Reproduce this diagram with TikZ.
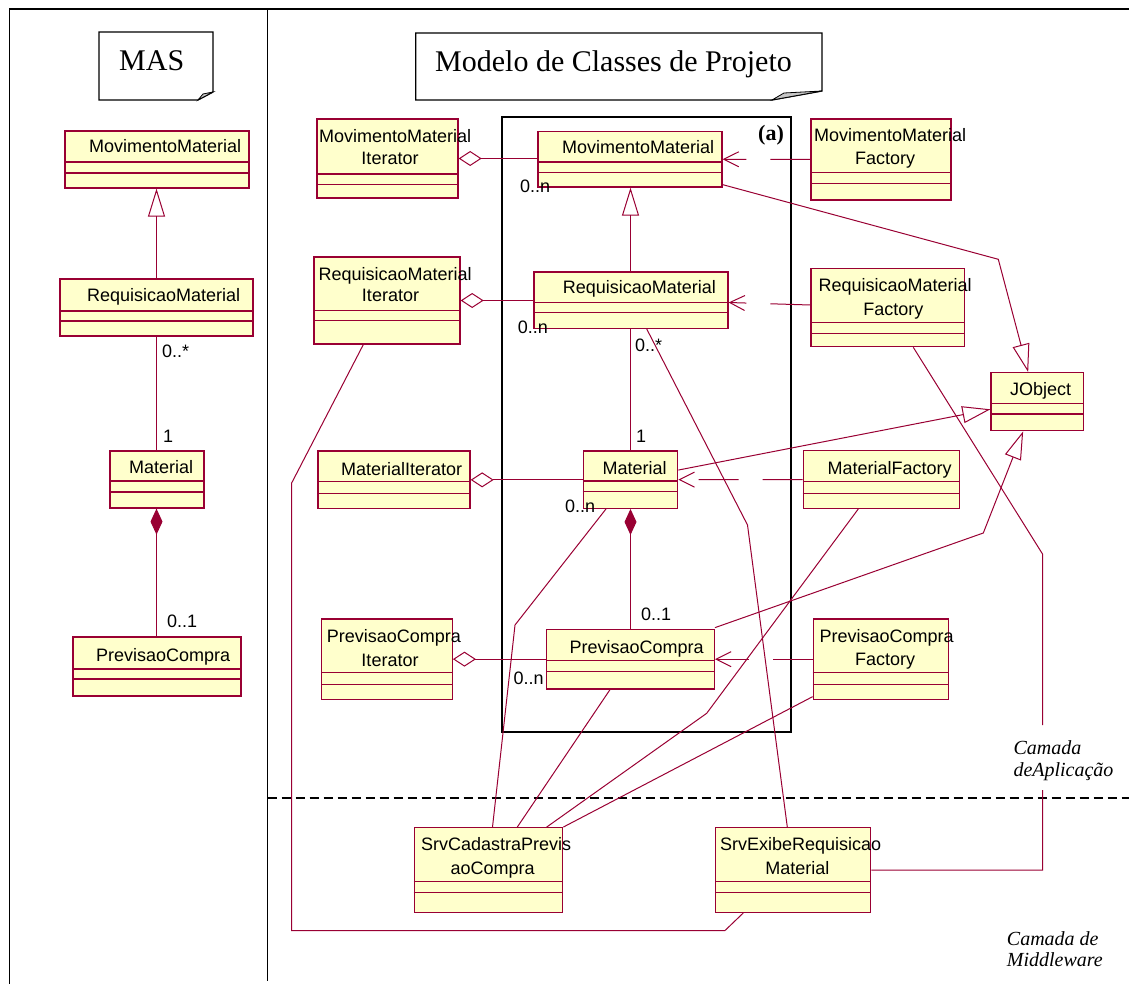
\documentclass[tikz,border=0pt]{standalone}
\usepackage{fontspec}
\setmainfont{Liberation Serif}
\newfontfamily\umlfont{Liberation Sans}
\usetikzlibrary{arrows.meta,fit,calc}
\definecolor{rosered}{RGB}{153,0,51}
\definecolor{roseyellow}{RGB}{255,255,204}

\tikzset{
  cls/.style={draw=rosered, fill=roseyellow, line width=1.3pt, inner sep=0pt},
  comp/.style={draw=rosered, line width=1.1pt},
  cname/.style={font=\umlfont\fontsize{18}{20}\selectfont, inner sep=0pt, anchor=base west},
  cnamec/.style={font=\umlfont\fontsize{18}{20}\selectfont, inner sep=0pt, anchor=base},
  mult/.style={font=\umlfont\fontsize{18}{20}\selectfont, inner sep=0pt, anchor=base west},
  link/.style={draw=rosered, line width=1pt},
  gen/.style={link, -{Triangle[open, length=28pt, width=17pt]}},
  agg/.style={link, {Diamond[open, length=23pt, width=15pt]}-},
  compo/.style={link, -{Diamond[length=26pt, width=12pt]}},
  dep/.style={link, dash pattern=on 40pt off 24pt, -{Straight Barb[length=15pt, width=15pt]}},
  frame/.style={draw=black, line width=1.8pt},
  pkg/.style={draw=black, line width=2pt, inner sep=0pt},
  note/.style={draw=black, line width=1.3pt, fill=white},
  fold/.style={fill=gray!45, draw=black, line width=0.8pt},
  title/.style={font=\fontsize{30}{32}\selectfont, inner sep=0pt, anchor=base west},
  layer/.style={font=\itshape\fontsize{20}{22}\selectfont, inner sep=0pt, anchor=base west},
}

% class box: name, x1, y1, x2, y2, first divider, second divider
\newcommand\umlclass[7]{%
  \node[cls, fit={(#2,#3) (#4,#5)}] (#1) {};
  \draw[comp] (#1.west |- 0,#6) -- (#1.east |- 0,#6);
  \draw[comp] (#1.west |- 0,#7) -- (#1.east |- 0,#7);
}

\begin{document}
\begin{tikzpicture}[x=1pt, y=-1pt]
\useasboundingbox (0,0) rectangle (1129,984);

% frame and layer separator
\draw[frame] (1129,9) -- (9.5,9) -- (9.5,984);
\draw[frame] (267.5,9) -- (267.5,981);
\draw[frame, line width=2pt, dash pattern=on 9pt off 5pt] (267.5,798) -- (1129,798);

% notes
\draw[note] (99,32) -- (213,32) -- (213,92) -- (198,100) -- (99,100) -- cycle;
\draw[fold] (198,100) -- (203,94) -- (213,92) -- cycle;
\node[title] (mas) at (119,71) {MAS};
\draw[note] (415.7,33) -- (822,33) -- (822,91) -- (772,100) -- (415.7,100) -- cycle;
\draw[fold] (772,100) -- (784,93) -- (822,91) -- cycle;
\node[title] (modelo) at (435,71.7) {Modelo de Classes de Projeto};

% package (a)
\node[pkg, fit={(502,117) (791,732)}] (pkga) {};
\node[font=\bfseries\fontsize{22}{24}\selectfont, anchor=base west, inner sep=0pt] (pkgl) at (758,140.5) {(a)};

% MAS classes
\umlclass{lmm}{65}{131}{249}{188}{162}{173}
\umlclass{lrm}{60}{279}{253}{336}{311}{321}
\umlclass{lmat}{110}{451}{204}{508}{481}{492}
\umlclass{lpc}{73}{637}{241}{696}{669}{679}

% design classes
\umlclass{mmi}{317}{119}{458}{198}{174}{184.5}
\umlclass{mm}{538}{131.5}{722}{187}{162}{172.5}
\umlclass{mmf}{811}{119}{951}{200}{172.3}{183.3}
\umlclass{rmi}{314}{257}{460}{344}{310.3}{320.7}
\umlclass{rm}{534}{272}{728}{328.3}{302.3}{312.7}
\umlclass{rmf}{811}{268.3}{964.3}{346.7}{322.3}{333.3}
\umlclass{jo}{991}{372.7}{1083.3}{430.7}{403.3}{414}
\umlclass{mati}{318}{451}{470}{508.7}{481.3}{493.3}
\umlclass{mat}{583.3}{451}{677.7}{508.3}{481}{491.7}
\umlclass{matf}{803.3}{450.7}{959.3}{508.3}{481.7}{493.3}
\umlclass{pci}{321.7}{619}{452.3}{699.3}{672.3}{684.3}
\umlclass{pc}{546.7}{629.3}{714.3}{689}{660.7}{671.7}
\umlclass{pcf}{813.3}{619}{948.3}{699.3}{672.3}{684.3}
\umlclass{sc}{414.3}{827.7}{562.7}{912.3}{881.7}{892.7}
\umlclass{se}{715.7}{827.7}{870.7}{912.3}{881.7}{892.7}

% MAS relations
\draw[gen] (lrm.north -| 156.5,0) -- (lmm.south -| 156.5,0);
\draw[link] (lrm.south -| 156.5,0) -- (lmat.north -| 156.5,0);
\draw[compo] (lpc.north -| 156.5,0) -- (lmat.south -| 156.5,0);

% iterators (aggregation)
\draw[agg] (mmi.east) -- (mmi.east -| mm.west);
\draw[agg] (rmi.east) -- (rmi.east -| rm.west);
\draw[agg] (mati.east) -- (mati.east -| mat.west);
\draw[agg] (pci.east) -- (pci.east -| pc.west);

% hierarchy inside the package
\draw[gen] (rm.north -| 630.5,0) -- (mm.south -| 630.5,0);
\draw[link] (rm.south -| 630.5,0) -- (mat.north -| 630.5,0);
\draw[compo] (pc.north -| 630.5,0) -- (mat.south -| 630.5,0);

% generalizations to JObject
\draw[gen] ([yshift=3pt]mm.south east) -- (998.3,259.3) -- ([xshift=-9pt]jo.north);
\draw[gen] ([yshift=9.6pt]mat.east) -- ([yshift=-7.6pt]jo.west);
\draw[gen] ([yshift=1pt]pc.north east) -- (983.3,533) -- ([xshift=-14pt]jo.south);

% factories (dependencies)
\draw[dep] (mmf.west) -- (mm.east);
\draw[dep] (rmf.west |- 0,305) -- (rm.east |- 0,302.5);
\draw[dep] (matf.west) -- (mat.east);
\draw[dep] (pcf.west) -- (pc.east);

% servlets
\draw[link] (rmi.south -| 363.3,0) -- (291.5,483.3) -- (291.5,930.5) -- (725,930.5) -- (se.south -| 743.3,0);
\draw[link] (rm.south -| 646.7,0) -- (747.5,525) -- (se.north -| 787.3,0);
\draw[link] (rmf.south -| 913.3,0) -- (1042.5,554) -- (1042.5,725) (1042.5,790) |- (se.east);
\draw[link] (mat.south -| 606,0) -- (515,625) -- (sc.north -| 492.5,0);
\draw[link] (pc.south -| 610,0) -- (sc.north -| 517.3,0);
\draw[link] (matf.south -| 858.3,0) -- (706.7,713.3) -- (sc.north -| 546.7,0);
\draw[link] ([yshift=3.3pt]pcf.south west) -- (sc.north east);

% class names
\node[cname] (lmm-t) at (89,153) {MovimentoMaterial};
\node[cname] (lrm-t) at (87,301.5) {RequisicaoMaterial};
\node[cname] (lmat-t) at (129,473.5) {Material};
\node[cname] (lpc-t) at (96,661.5) {PrevisaoCompra};

\node[cname] (mmi-t) at (319,143) {MovimentoMaterial};
\node[cnamec] (mmi-u) at (390,165) {Iterator};
\node[cname] (mm-t) at (562,154) {MovimentoMaterial};
\node[cname] (mmf-t) at (814,141.5) {MovimentoMaterial};
\node[cnamec] (mmf-u) at (885,165) {Factory};
\node[cname] (rmi-t) at (318.3,280) {RequisicaoMaterial};
\node[cnamec] (rmi-u) at (390.5,301.5) {Iterator};
\node[cname] (rm-t) at (562.7,294) {RequisicaoMaterial};
\node[cname] (rmf-t) at (818.3,291) {RequisicaoMaterial};
\node[cnamec] (rmf-u) at (893.3,315) {Factory};
\node[cname] (jo-t) at (1010,395) {JObject};
\node[cname] (mati-t) at (341,475) {MaterialIterator};
\node[cname] (mat-t) at (602.3,474) {Material};
\node[cname] (matf-t) at (827.3,474) {MaterialFactory};
\node[cname] (pci-t) at (326.7,642.5) {PrevisaoCompra};
\node[cnamec] (pci-u) at (390,666) {Iterator};
\node[cname] (pc-t) at (569.3,653.2) {PrevisaoCompra};
\node[cname] (pcf-t) at (819.3,642.5) {PrevisaoCompra};
\node[cnamec] (pcf-u) at (885,665.5) {Factory};
\node[cname] (sc-t) at (421,850) {SrvCadastraPrevis};
\node[cnamec] (sc-u) at (492.7,874) {aoCompra};
\node[cname] (se-t) at (720,850) {SrvExibeRequisicao};
\node[cnamec] (se-u) at (797.3,874) {Material};

% multiplicities
\node[mult] (m1) at (162,357) {0..*};
\node[mult] (m2) at (163,442.5) {1};
\node[mult] (m3) at (167,627) {0..1};
\node[mult] (m4) at (520,193) {0..n};
\node[mult] (m5) at (517.7,333) {0..n};
\node[mult] (m6) at (635,351) {0..*};
\node[mult] (m7) at (636,442) {1};
\node[mult] (m8) at (565,512.5) {0..n};
\node[mult] (m9) at (641,620) {0..1};
\node[mult] (m10) at (513.3,684) {0..n};

% layer names
\node[layer] (cam1) at (1013.3,754.3) {Camada};
\node[layer] (cam2) at (1013.3,776.7) {deAplicação};
\node[layer] (cam3) at (1006.7,945) {Camada de};
\node[layer] (cam4) at (1006.7,966.7) {Middleware};
\end{tikzpicture}
\end{document}
